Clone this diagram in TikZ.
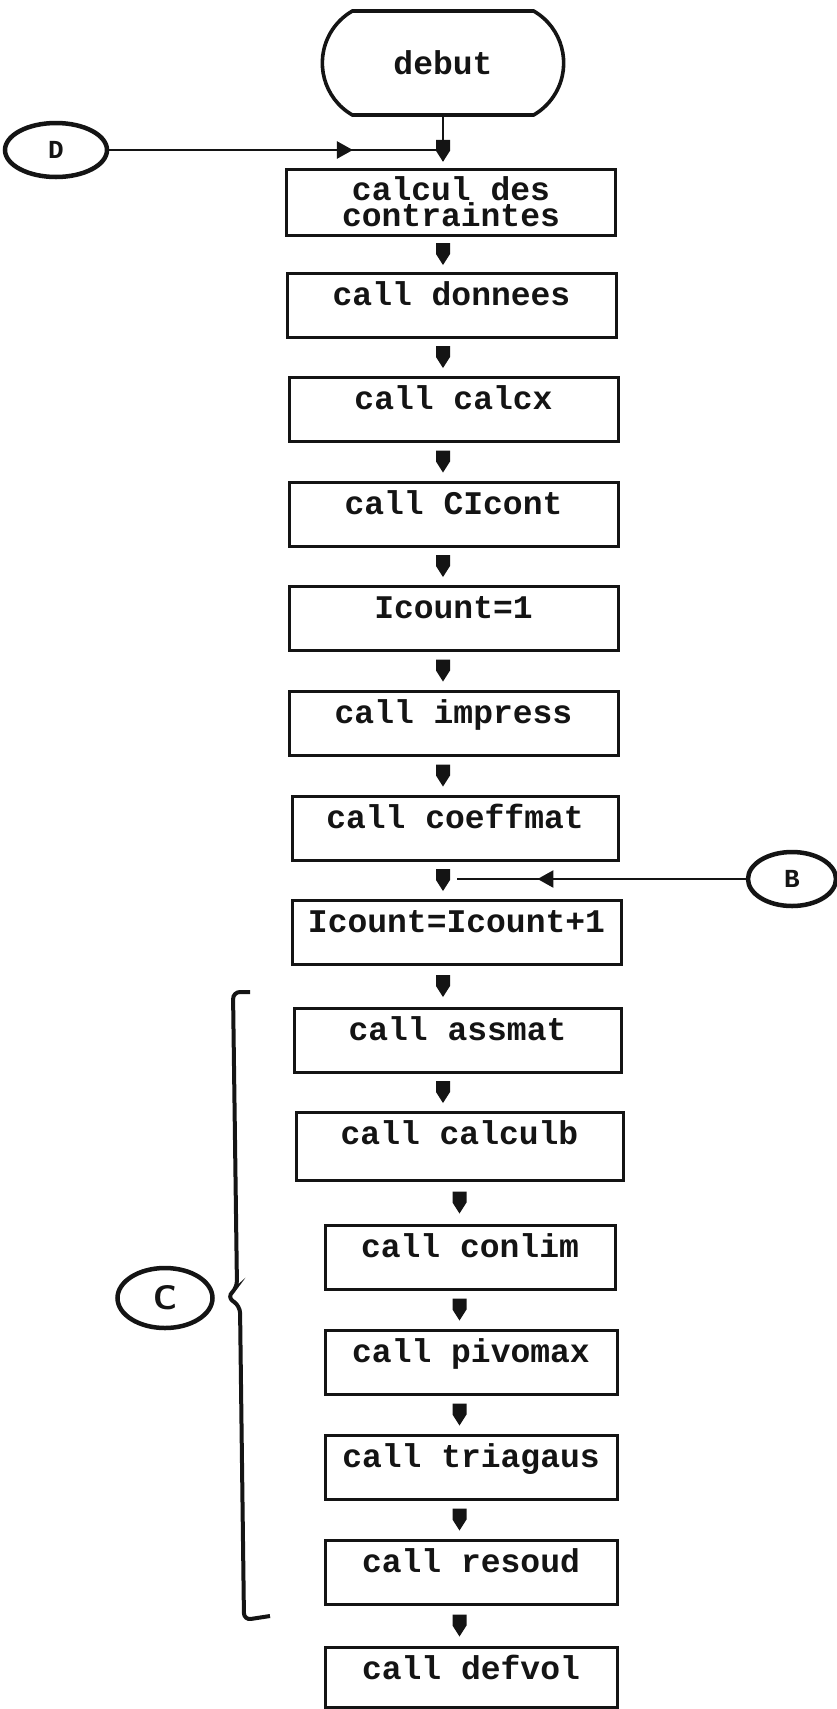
\documentclass[tikz,border=0pt]{standalone}
\usepackage{fontspec}
\newfontfamily\fcmono{Liberation Mono}
\usetikzlibrary{arrows.meta,shapes.geometric,shapes.misc,decorations.markings}
\definecolor{fcInk}{HTML}{141414}
\tikzset{
  fc line/.style={draw=fcInk, line width=2.6pt},
  fc text/.style={font=\fcmono\bfseries\fontsize{33pt}{26pt}\selectfont, text=fcInk},
  fc box/.style={fc line, fc text, rectangle, line width=3pt, minimum width=329pt, inner xsep=0pt},
  fc call/.style={fc box, inner ysep=10pt, text height=22pt, text depth=22pt},
  fc term/.style={fc line, fc text, rounded rectangle, rounded rectangle arc length=120, line width=3.6pt, minimum width=248pt, minimum height=104pt},
  fc conn/.style={draw=fcInk, ellipse, line width=4.5pt, inner sep=0pt, text=fcInk, font=\fcmono\bfseries\fontsize{26pt}{26pt}\selectfont},
  fc flow/.style={decoration={markings, mark=at position #1 with {\fill[fcInk] (-11pt,-7pt) -- (0pt,-7pt) -- (11pt,0pt) -- (0pt,7pt) -- (-11pt,7pt) -- cycle;}}, postaction=decorate},
  fc flow/.default=0.5,
  fc mid/.style={decoration={markings, mark=at position #1 with {\arrow{Triangle[length=16pt,width=17pt]}}}, postaction=decorate},
}

\begin{document}
\begin{tikzpicture}[x=1pt,y=-1pt]
  % page
  \path[use as bounding box, fill=white] (0,0) rectangle (836,1709);
  % start and entry points
  \node[fc term] (debut) at (443,63) {debut};
  \node[fc conn, minimum width=102pt, minimum height=54pt] (D) at (56,150) {D};
  \node[fc conn, minimum width=88pt, minimum height=54pt] (B) at (792,879) {B};
  % main chain
  \node[fc box, align=center, minimum height=66pt, inner ysep=2pt] (b1) at (451,202) {calcul des\\contraintes};
  \node[fc call] (b2) at (451.5,305) {call donnees};
  \node[fc call] (b3) at (453.5,409) {call calcx};
  \node[fc call] (b4) at (453.5,514) {call CIcont};
  \node[fc call] (b5) at (453.5,618) {Icount=1};
  \node[fc call] (b6) at (453.5,723) {call impress};
  \node[fc call, minimum width=326pt] (b7) at (455,828) {call coeffmat};
  \node[fc call] (b8) at (456.5,932) {Icount=Icount+1};
  \node[fc call, minimum width=327pt] (b9) at (457.5,1040) {call assmat};
  \node[fc call, minimum width=327pt, text depth=26pt] (b10) at (459.5,1146) {call calculb};
  \node[fc call, minimum width=290pt] (b11) at (470,1257) {call conlim};
  \node[fc call, minimum width=292pt] (b12) at (471,1362) {call pivomax};
  \node[fc call, minimum width=292pt] (b13) at (471,1467) {call triagaus};
  \node[fc call, minimum width=292pt] (b14) at (471,1572) {call resoud};
  \node[fc call, minimum width=292pt, text depth=18pt] (b15) at (471,1677) {call defvol};
  % loop bracket
  \node[fc conn, font=\sffamily\bfseries\fontsize{34pt}{34pt}\selectfont, minimum width=95pt, minimum height=60pt] (C) at (165,1298) {C};
  \draw[fc line, line width=4pt, rounded corners=7pt] (250,992) -- (233,992) -- (237,1288) -- (227,1297) -- (240,1306) -- (244,1620) -- (270,1616);
  % connectors
  \draw[fc line, fc flow=0.67, shorten >=7pt] (debut.south) -- (debut.south |- b1.north);
  \draw[fc line, fc mid=0.73] (D.east) -- (D.east -| debut.south);
  \draw[fc line, fc mid=0.72] (B.west) -- (B.west -| b8.north);
  \foreach \a/\b in {b1/b2,b2/b3,b3/b4,b4/b5,b5/b6,b6/b7,b7/b8,b8/b9,b9/b10}
    \path[fc flow] (\a.south -| debut.south) -- (\b.north -| debut.south);
  \foreach \a/\b in {b10/b11,b11/b12,b12/b13,b13/b14,b14/b15}
    \path[fc flow] (\a.south -| b10.south) -- (\b.north -| b10.south);
\end{tikzpicture}
\end{document}
